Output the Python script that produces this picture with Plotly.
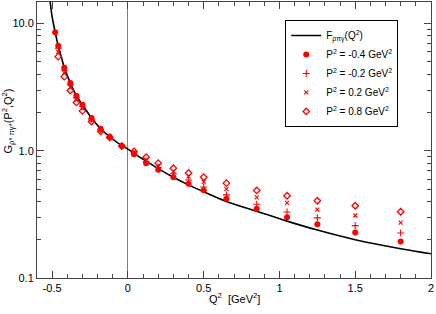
import plotly.graph_objects as go

# Q^2 values of the data points
q2 = [-0.48, -0.46, -0.42, -0.38, -0.34, -0.30, -0.24, -0.18, -0.12, -0.04,
      0.04, 0.12, 0.2, 0.3, 0.4, 0.5, 0.65, 0.85, 1.05, 1.25, 1.5, 1.8]

g_m04 = [8.56, 6.7, 4.5, 3.42, 2.71, 2.30, 1.81, 1.49, 1.29, 1.09,
         0.94, 0.80, 0.71, 0.62, 0.55, 0.49, 0.42, 0.35, 0.30, 0.265, 0.228, 0.194]
g_m02 = [None, 6.4, 4.3, 3.3, 2.62, 2.24, 1.78, 1.47, 1.285, 1.09,
         0.96, 0.82, 0.74, 0.66, 0.59, 0.52, 0.45, 0.38, 0.33, 0.297, 0.258, 0.226]
g_p02 = [None, 6.0, 4.1, 3.15, 2.52, 2.16, 1.74, 1.45, 1.28, 1.09,
         0.97, 0.85, 0.76, 0.69, 0.63, 0.57, 0.50, 0.43, 0.39, 0.345, 0.31, 0.273]
g_p08 = [None, 5.5, 3.83, 2.98, 2.40, 2.06, 1.70, 1.42, 1.27, 1.09,
         0.99, 0.89, 0.80, 0.73, 0.67, 0.62, 0.557, 0.488, 0.443, 0.405, 0.37, 0.332]

# F_rho pi gamma(Q^2) curve
curve_q2 = [-0.513, -0.50, -0.49, -0.48, -0.46, -0.44, -0.42, -0.40, -0.38, -0.34,
            -0.30, -0.24, -0.18, -0.12, -0.06, 0.0, 0.06, 0.12, 0.2, 0.3, 0.4,
            0.5, 0.65, 0.85, 1.05, 1.25, 1.5, 1.8, 2.0]
curve_f = [14.8, 11.3, 9.8, 8.56, 6.68, 5.5, 4.51, 3.9, 3.42, 2.71,
           2.30, 1.81, 1.49, 1.29, 1.14, 1.03, 0.92, 0.83, 0.725, 0.62, 0.54,
           0.477, 0.40, 0.335, 0.280, 0.238, 0.200, 0.170, 0.155]

x_ticks = [-0.5, 0, 0.5, 1, 1.5, 2]
x_labels = ["-0.5", "0", "0.5", "1", "1.5", "2"]
y_ticks = [0.1, 1, 10]
y_labels = ["0.1", "1.0", "10.0"]

series = [
    ("P<sup>2</sup> = -0.4 GeV<sup>2</sup>", g_m04, "circle", 6, 0),
    ("P<sup>2</sup> = -0.2 GeV<sup>2</sup>", g_m02, "cross-thin", 5, 1.1),
    ("P<sup>2</sup> = 0.2 GeV<sup>2</sup>", g_p02, "x-thin", 4, 1.1),
    ("P<sup>2</sup> = 0.8 GeV<sup>2</sup>", g_p08, "diamond-open", 5, 1.3),
]

red = "#ff0000"
fig = go.Figure()
fig.add_trace(go.Scatter(x=curve_q2, y=curve_f, mode="lines",
                         line=dict(color="black", width=1.6, shape="spline"),
                         name="F<sub>ρπγ</sub>(Q<sup>2</sup>)"))
for name, vals, sym, size, lw in series:
    fig.add_trace(go.Scatter(x=q2, y=vals, mode="markers", name=name,
                             marker=dict(symbol=sym, size=size, color=red,
                                         line=dict(color=red, width=lw))))

minor_y = [v * d for d in (0.1, 1.0) for v in range(2, 10)]
axcol = "#444"
fig.update_layout(
    width=436, height=314,
    margin=dict(l=37, r=5, t=2, b=36),
    paper_bgcolor="white", plot_bgcolor="white",
    font=dict(family="Liberation Sans, Arial, sans-serif", size=11, color="black"),
    showlegend=True,
    legend=dict(x=0.63, y=0.935, xanchor="left", yanchor="top",
                bordercolor="black", borderwidth=1, bgcolor="white",
                font=dict(size=10), itemwidth=30, tracegroupgap=0),
    xaxis=dict(range=[-0.6, 2.0], tickvals=x_ticks, ticktext=x_labels,
               ticks="inside", ticklen=7, tickcolor=axcol, showline=True,
               linecolor=axcol, mirror="allticks", showgrid=False, automargin=False,
               zeroline=True, zerolinecolor="#808080", zerolinewidth=1,
               minor=dict(dtick=0.1, tick0=0, ticks="inside", ticklen=4, tickcolor=axcol)),
    yaxis=dict(type="log", range=[-1, 1.17], tickvals=y_ticks, ticktext=y_labels,
               ticks="inside", ticklen=7, tickcolor=axcol, showline=True,
               linecolor=axcol, mirror="allticks", showgrid=False, automargin=False,
               minor=dict(tickvals=minor_y, ticks="inside", ticklen=4, tickcolor=axcol)),
    annotations=[
        dict(text="Q<sup>2</sup>  [GeV<sup>2</sup>]", xref="paper", yref="paper",
             x=0.5, y=-0.072, showarrow=False, xanchor="center", yanchor="middle",
             font=dict(size=11)),
        dict(text="G<sub>ρ* πγ*</sub>(P<sup>2</sup>,Q<sup>2</sup>)", xref="paper", yref="paper",
             x=-0.074, y=0.57, showarrow=False, textangle=-90, xanchor="center",
             yanchor="middle", font=dict(size=11)),
    ],
)
fig.write_html("out.html", config={"displayModeBar": False},
               post_script="document.body.style.margin='0';document.body.style.overflow='hidden';")
